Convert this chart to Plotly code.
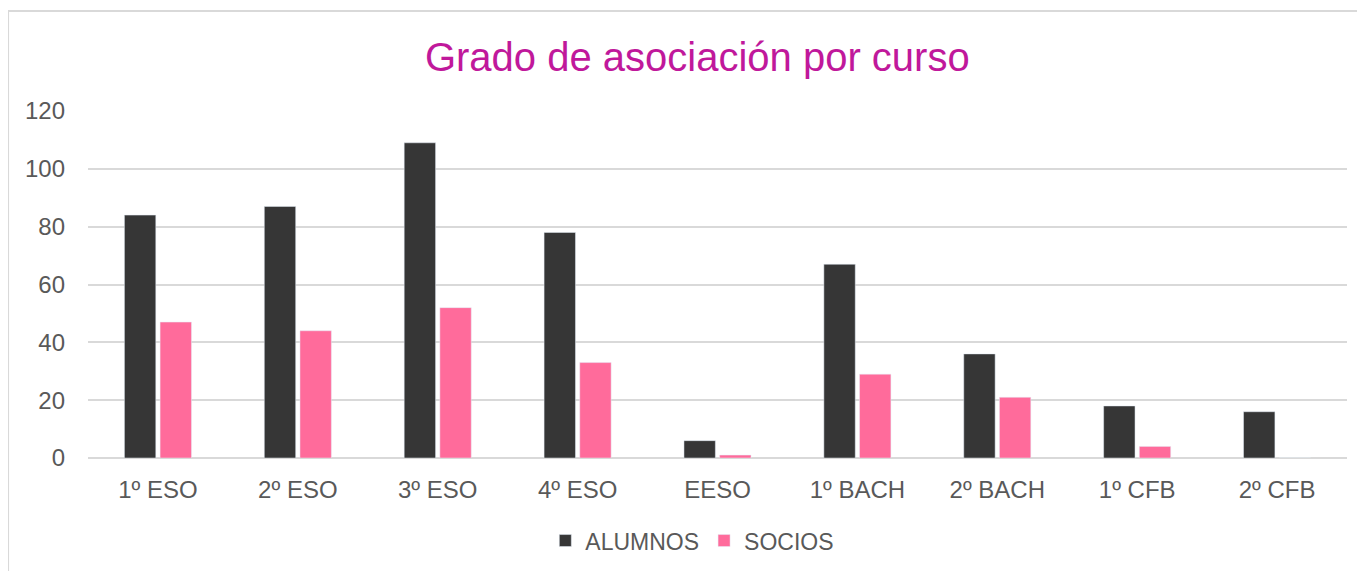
"""Grado de asociación por curso - grouped bar chart."""

import plotly.graph_objects as go

cursos = ["1º ESO", "2º ESO", "3º ESO", "4º ESO", "EESO", "1º BACH", "2º BACH", "1º CFB", "2º CFB"]
alumnos = [84, 87, 109, 78, 6, 67, 36, 18, 16]
socios = [47, 44, 52, 33, 1, 29, 21, 4, 0]

FONT = "'Liberation Sans', Arial, sans-serif"
GRAY = "#595959"

fig = go.Figure()
fig.add_trace(go.Bar(x=cursos, y=alumnos, name="ALUMNOS", marker_color="#363636"))
fig.add_trace(go.Bar(x=cursos, y=socios, name="SOCIOS", marker_color="#FF6B9B"))

# page body adds 8px, so margins are shifted to compensate
fig.update_layout(
    width=1365,
    height=571,
    barmode="group",
    bargap=0.49,
    bargroupgap=0.12,
    plot_bgcolor="white",
    paper_bgcolor="white",
    margin=dict(l=80, r=26, t=103, b=121),
    title=dict(
        text="Grado de asociación por curso",
        x=0.505,
        xanchor="center",
        y=0.915,
        yanchor="middle",
        font=dict(family=FONT, size=40, color="#C0189B"),
    ),
    font=dict(family=FONT, size=24, color=GRAY),
    legend=dict(
        orientation="h",
        x=0.48,
        xanchor="center",
        y=-0.238,
        yanchor="middle",
        font=dict(size=23, color=GRAY),
        itemwidth=30,
    ),
    shapes=[
        dict(
            type="rect", xref="paper", yref="paper",
            x0=-0.0635, x1=1.1, y0=-0.6, y1=1.288,
            line=dict(color="#d9d9d9", width=2), layer="below",
        )
    ],
)
fig.update_yaxes(
    range=[0, 120], dtick=20, showgrid=True, gridcolor="#d9d9d9", gridwidth=1.5,
    zeroline=True, zerolinecolor="#d9d9d9", zerolinewidth=1.5, automargin=False,
    tickfont=dict(size=24, color=GRAY), ticks="", ticklen=0, ticklabelstandoff=22,
)
fig.update_xaxes(
    showgrid=False, tickfont=dict(size=24, color=GRAY), ticks="", automargin=False,
    ticklabelstandoff=15,
)

fig.write_html("out.html")
